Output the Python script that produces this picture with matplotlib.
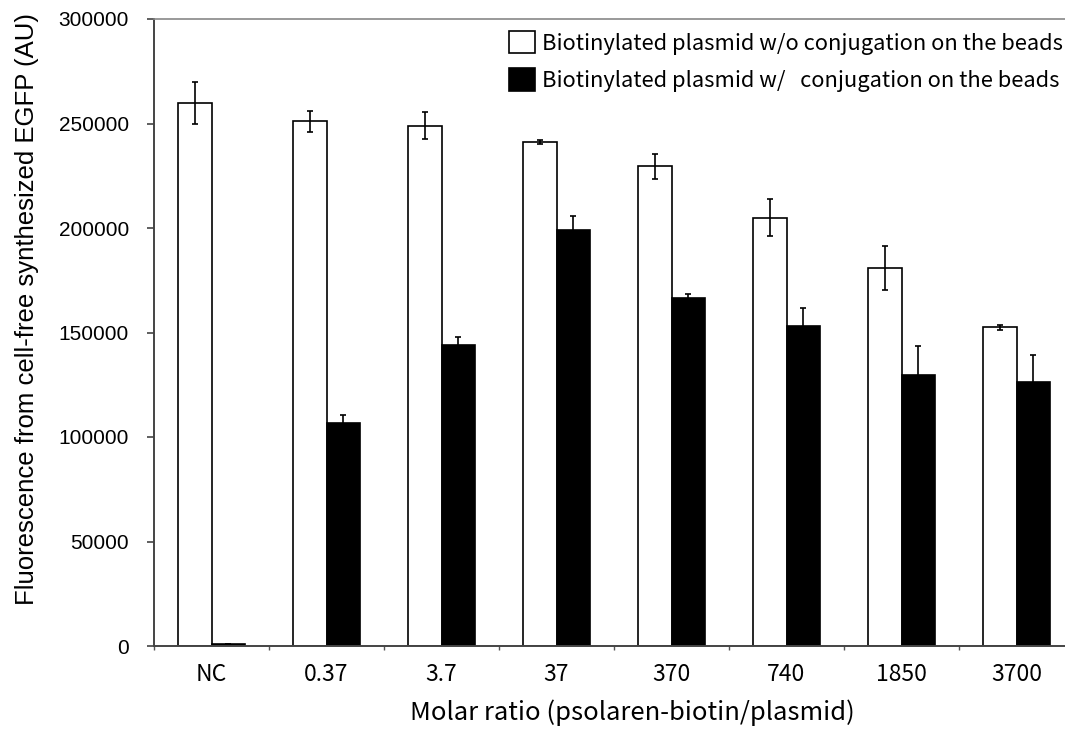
import numpy as np
import matplotlib
matplotlib.use("Agg")
import matplotlib.pyplot as plt

# molar ratio groups and EGFP fluorescence (AU)
ratios = ["NC", "0.37", "3.7", "37", "370", "740", "1850", "3700"]
free_mean = [260000, 251000, 249000, 241000, 229500, 205000, 181000, 152400]
free_err = [10000, 5000, 6500, 1000, 6000, 9000, 10500, 1000]
beads_mean = [1000, 106700, 144000, 199200, 166400, 153300, 129900, 126500]
beads_err = [0, 4000, 4000, 6500, 2000, 8300, 13700, 12800]

labels = ["Biotinylated plasmid w/o conjugation on the beads",
          "Biotinylated plasmid w/   conjugation on the beads"]

arial = "Liberation Sans"
gothic = "Noto Sans CJK KR"

fig = plt.figure(figsize=(10.65, 7.33), dpi=100)
# plot area runs past the right edge of the canvas
ax = fig.add_axes([154 / 1065, 87 / 733, 920 / 1065, 627 / 733])

x = np.arange(len(ratios))
w = 0.29
err_kw = dict(ecolor="black", elinewidth=1.2, capsize=2.2, capthick=1.2)
b1 = ax.bar(x - w / 2, free_mean, w, yerr=free_err, color="white",
            edgecolor="black", linewidth=1.2, error_kw=err_kw, label=labels[0])
b2 = ax.bar(x + w / 2, beads_mean, w, yerr=beads_err, color="black",
            edgecolor="black", linewidth=1.2, error_kw=err_kw, label=labels[1])

ax.set_xlim(-0.5, len(ratios) - 0.5)
ax.set_ylim(0, 300000)
ax.set_yticks(np.arange(0, 300001, 50000))
ax.set_yticklabels([str(v) for v in range(0, 300001, 50000)],
                   fontfamily=arial, fontsize=15)
ax.set_xticks(x)
ax.set_xticklabels(ratios, fontfamily=gothic, fontsize=16.5)
ax.set_xticks(np.arange(-0.5, len(ratios)), minor=True)
ax.tick_params(axis="x", which="major", length=0, pad=12)
ax.tick_params(axis="x", which="minor", length=3, width=1, color="#555555")
ax.tick_params(axis="y", length=5, width=1.2, color="#444444", pad=13)

for side in ["left", "bottom"]:
    ax.spines[side].set_color("#444444")
    ax.spines[side].set_linewidth(1.4)
ax.spines["top"].set_color("#888888")
ax.spines["top"].set_linewidth(1.2)
ax.spines["right"].set_visible(False)

ax.set_xlabel("Molar ratio (psolaren-biotin/plasmid)", fontfamily=gothic,
              fontsize=18.4, va="center")
ax.xaxis.set_label_coords(0.52, -0.107)
ax.set_ylabel("Fluorescence from cell-free synthesized EGFP (AU)",
              fontfamily=arial, fontsize=18.5, va="center")
ax.yaxis.set_label_coords(-0.138, 0.537)

fig.legend(handles=[b1, b2], loc="upper right",
           bbox_to_anchor=(1063 / 1065, 1 - 31 / 733),
           prop={"family": gothic, "size": 15.8}, frameon=False,
           handlelength=1.2, handleheight=1.2, handletextpad=0.3,
           labelspacing=0.62, borderpad=0.0, borderaxespad=0.0)

fig.savefig("out.png", dpi=100)
